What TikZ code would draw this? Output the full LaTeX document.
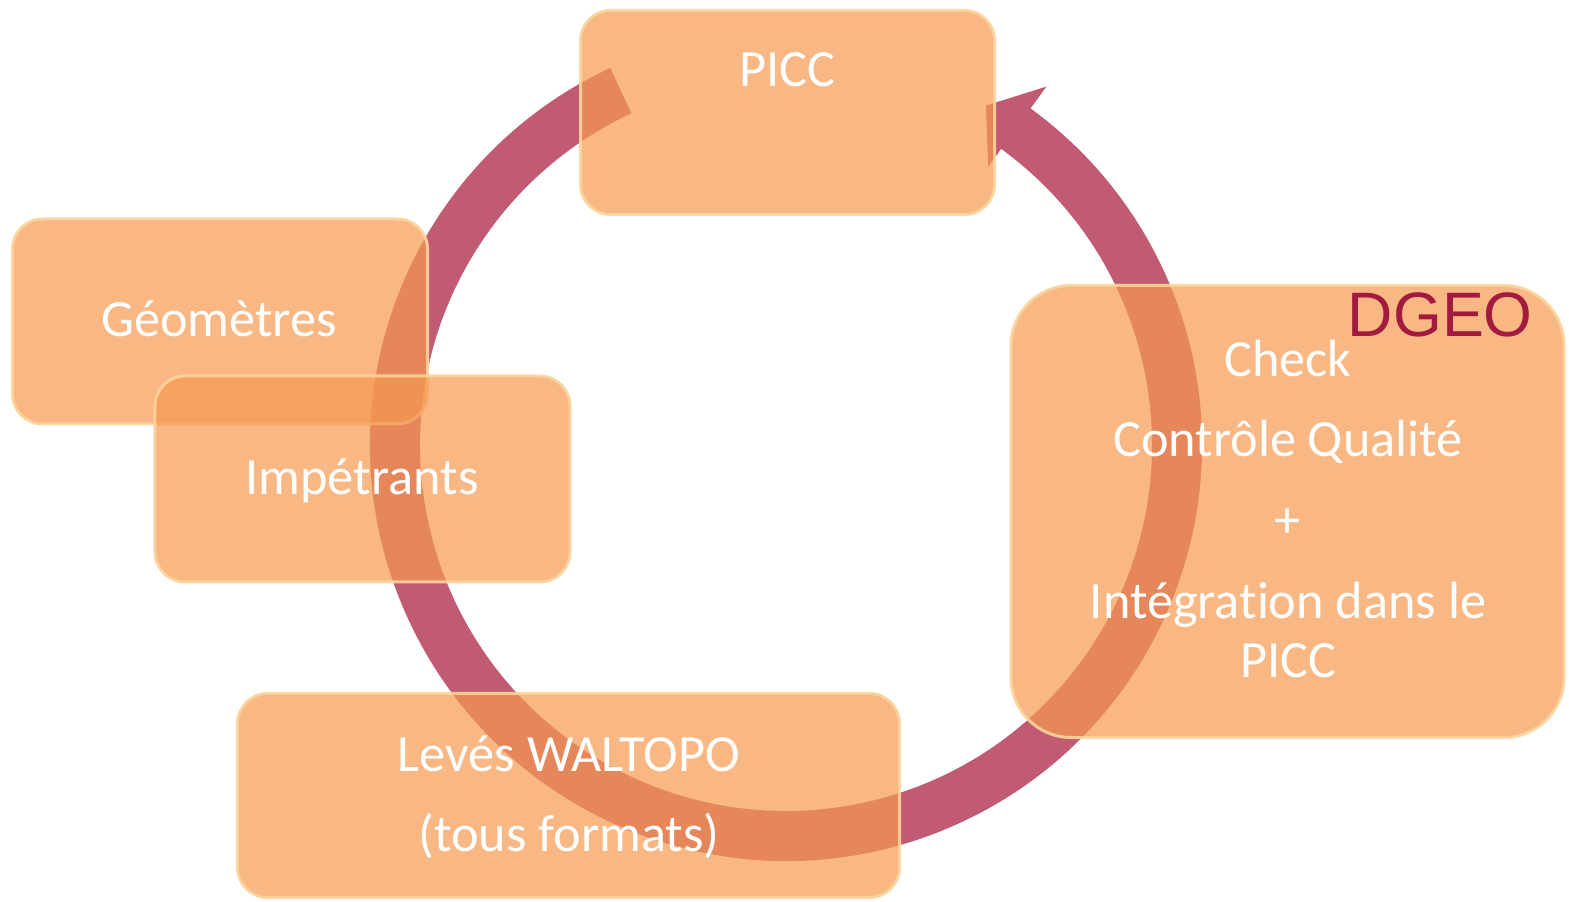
\documentclass[tikz,border=0pt]{standalone}
\usepackage{fontspec}
\setmainfont{Carlito}[Ligatures={NoCommon}]
\newfontfamily\dgeofont{Liberation Sans}
\usetikzlibrary{calc}
\definecolor{ringcol}{HTML}{C05B73}
\definecolor{boxfill}{HTML}{F59950}
\definecolor{boxedge}{HTML}{FBD49C}
\definecolor{dgeocol}{HTML}{A31A3F}
\tikzset{
  box/.style={draw=boxedge, line width=3bp, fill=boxfill, fill opacity=0.71, draw opacity=0.9,
    rounded corners=#1, inner sep=0pt},
  box/.default=30bp,
  txt/.style={text=white, inner sep=0pt, anchor=base, font=\fontsize{52.5}{60}\selectfont},
  ring/.style={fill=ringcol}
}
\begin{document}
\begin{tikzpicture}[x=1bp,y=1bp]
\useasboundingbox (0,0) rectangle (1569,901);
\coordinate (c) at (786,456);
% circular arrow
\fill[ring] ($(c)+(115:416)$) arc[start angle=115, end angle=414, radius=416]
  -- ($(c)+(54:443)$) -- ($(c)+(59.5:394)$) -- ($(c)+(54:344)$) -- ($(c)+(54:366)$)
  arc[start angle=414, end angle=115, radius=366] -- cycle;
% boxes
\node[box, minimum width=415bp, minimum height=205bp] (geo) at (220,579.5) {};
\node[box, minimum width=415bp, minimum height=206bp] (imp) at (362.5,422) {};
\node[box=60bp, minimum width=553bp, minimum height=452bp] (chk) at (1287.5,389.5) {};
\node[box, minimum width=662bp, minimum height=204bp] (lev) at (568.5,105.5) {};
\node[box, minimum width=414bp, minimum height=204bp] (picc) at (787.5,788.5) {};
% texts
\node[txt] (tpicc) at (787,814) {PICC};
\node[txt] (tgeo) at (219,564) {Géomètres};
\node[txt] (timp) at (362,406) {Impétrants};
\node[txt] (tchk1) at (1288,524) {Check};
\node[txt] (tchk2) at (1288,444) {Contrôle Qualité};
\node[txt] (tchk3) at (1288,363) {+};
\node[txt] (tchk4) at (1288,282) {Intégration dans le};
\node[txt] (tchk5) at (1288,223) {PICC};
\node[txt] (tlev1) at (569,129) {Levés WALTOPO};
\node[txt] (tlev2) at (569,50) {(tous formats)};
\node[inner sep=0pt, anchor=base east, text=dgeocol, font=\dgeofont\fontsize{63}{70}\selectfont] (dgeo) at (1533,564) {DGEO};
\end{tikzpicture}
\end{document}
